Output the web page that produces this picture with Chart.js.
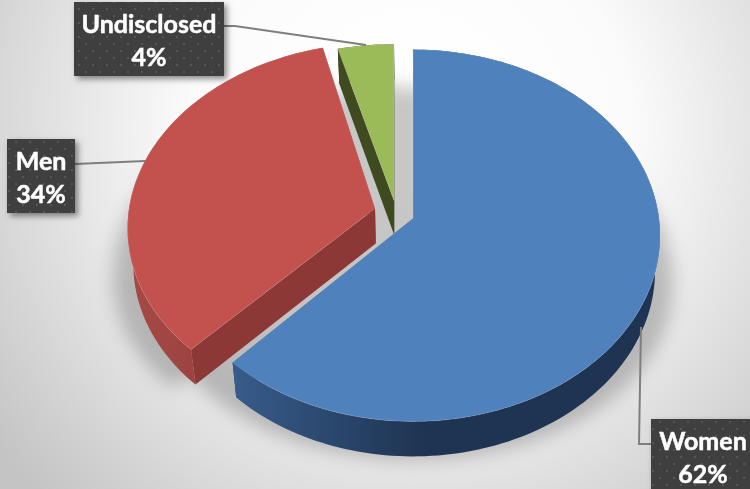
<!DOCTYPE html>
<html>
<head>
<meta charset="utf-8">
<style>
  html, body { margin: 0; padding: 0; background: #fff; }
  #wrap { position: relative; width: 750px; height: 489px; overflow: hidden; }
  canvas { display: block; }
</style>
<script src="https://cdn.jsdelivr.net/npm/chart.js@4"></script>
</head>
<body>
<div id="wrap"><canvas id="pie" width="750" height="489"></canvas></div>
<script>
// Survey breakdown by gender
const categories = ['Women', 'Men', 'Undisclosed'];
const shares = [62, 34, 4];

const topColors = ['#4f81bd', '#c3524f', '#9bbb59'];
const cutColors = ['#1f3452', '#8c3836', '#3f4a21'];
const rimStops = [['#375c8b', '#1f3452'], ['#a64a47', '#8a3735'], ['#3f4a21', '#3f4a21']];

// Pull-out of each slice on screen: dx, dy, vertical squeeze about the hub, shear
const pull = [[0, 0, 1, 0], [-38, -10, 0.98, -0.025], [-19, -18, 0.925, 0]];

// Perspective of the tilted disc
const tilt = { cx: 38, hub: -26, a: 1.006, b: 0.754, k: 0.0914, depth: 35, narrow: 0.98 };

// Callout boxes: x, y, w, h, then the leader polyline
const callouts = [
  { box: [651, 419, 110, 74], text: 703, leader: [[651, 444], [639, 444], [641, 327]] },
  { box: [7, 139, 68, 74], text: 41, leader: [[75, 164], [145, 161]] },
  { box: [74, 2, 150, 74], text: 149, leader: [[224, 26], [235, 26], [366, 45]] }
];

function projector(arc, i) {
  const R = arc.outerRadius;
  const hubX = arc.x + tilt.cx, hubY = arc.y + tilt.hub;
  const [dx, dy, sy, shear] = pull[i];
  return (th, r, low) => {
    const u = r * Math.cos(th), v = r * Math.sin(th);
    const w = 1 - tilt.k * v;
    const py = tilt.b * R * v / w * sy;
    let x = tilt.a * R * u / w + dx + shear * py;
    let y = py + dy;
    if (low) { x *= tilt.narrow; y += tilt.depth; }
    return [hubX + x, hubY + y];
  };
}

function sweep(arc) {
  const pts = [];
  const n = Math.max(8, Math.ceil((arc.endAngle - arc.startAngle) * 40));
  for (let j = 0; j <= n; j++) pts.push(arc.startAngle + (arc.endAngle - arc.startAngle) * j / n);
  return pts;
}

function trace(ctx, pts) {
  ctx.beginPath();
  pts.forEach((p, j) => j ? ctx.lineTo(p[0], p[1]) : ctx.moveTo(p[0], p[1]));
  ctx.closePath();
}

// Soft cast shadow widening toward the viewer, from the pulled and the seated slices
function drawShadow(ctx, arcs) {
  ctx.save();
  ctx.filter = 'blur(9px)';
  ctx.fillStyle = 'rgba(0,0,0,0.22)';
  ctx.beginPath();
  arcs.forEach((arc, i) => {
    const hubX = arc.x + tilt.cx;
    const spread = ([x, y]) => {
      const f = 1 + 0.1 * (y - 50) / 370;
      return [hubX + (x - hubX) * f, y + 38];
    };
    [projector(arc, i), projector(arc, 0)].forEach(p => {
      const list = [p(arc.startAngle, 0, false)].concat(sweep(arc).map(t => p(t, 1, false))).map(spread);
      list.forEach((q, j) => j ? ctx.lineTo(q[0], q[1]) : ctx.moveTo(q[0], q[1]));
      ctx.closePath();
    });
  });
  ctx.fill('nonzero');
  ctx.restore();
}

function drawSlice(ctx, arc, i) {
  const p = projector(arc, i);
  const angles = sweep(arc);
  const topRim = angles.map(t => p(t, 1, false));
  const lowRim = angles.map(t => p(t, 1, true));
  const hubTop = p(0, 0, false), hubLow = p(0, 0, true);

  // cut faces on both straight edges
  ctx.fillStyle = cutColors[i];
  trace(ctx, [hubTop, topRim[0], lowRim[0], hubLow]); ctx.fill();
  trace(ctx, [hubTop, topRim[topRim.length - 1], lowRim[lowRim.length - 1], hubLow]); ctx.fill();

  // curved wall
  const left = Math.min(...topRim.map(q => q[0]));
  const g = ctx.createLinearGradient(left, 0, left + 190, 0);
  g.addColorStop(0, rimStops[i][0]);
  g.addColorStop(1, rimStops[i][1]);
  ctx.fillStyle = g;
  trace(ctx, topRim.concat(lowRim.slice().reverse())); ctx.fill();

  // upper surface
  ctx.fillStyle = topColors[i];
  trace(ctx, [hubTop].concat(topRim)); ctx.fill();
  ctx.lineWidth = 1;
  ctx.strokeStyle = 'rgba(255,255,255,0.15)';
  ctx.stroke();
}

function dotPattern(ctx) {
  const c = document.createElement('canvas');
  c.width = 14; c.height = 14;
  const t = c.getContext('2d');
  t.fillStyle = '#3f3f3f'; t.fillRect(0, 0, 14, 14);
  t.fillStyle = '#565656';
  t.fillRect(1, 1, 2, 2); t.fillRect(8, 8, 2, 2);
  return ctx.createPattern(c, 'repeat');
}

function drawCallouts(ctx) {
  const total = shares.reduce((s, v) => s + v, 0);
  ctx.save();
  callouts.forEach(c => {
    ctx.strokeStyle = '#7f7f7f';
    ctx.lineWidth = 2;
    ctx.beginPath();
    c.leader.forEach((q, j) => j ? ctx.lineTo(q[0], q[1]) : ctx.moveTo(q[0], q[1]));
    ctx.stroke();
  });
  const fill = dotPattern(ctx);
  callouts.forEach((c, i) => {
    const [x, y, w, h] = c.box;
    ctx.save();
    ctx.shadowColor = 'rgba(0,0,0,0.45)';
    ctx.shadowBlur = 6;
    ctx.shadowOffsetX = 3;
    ctx.shadowOffsetY = 3;
    ctx.fillStyle = '#3f3f3f';
    ctx.fillRect(x, y, w, h);
    ctx.restore();
    ctx.fillStyle = fill;
    ctx.fillRect(x, y, w, h);
    ctx.fillStyle = '#ffffff';
    ctx.strokeStyle = '#ffffff';
    ctx.lineWidth = 0.5;
    ctx.font = 'bold 25px Lato, "Open Sans", sans-serif';
    ctx.textAlign = 'center';
    ctx.textBaseline = 'middle';
    const pct = Math.round(shares[i] / total * 100) + '%';
    ctx.fillText(categories[i], c.text, y + 23);
    ctx.strokeText(categories[i], c.text, y + 23);
    ctx.fillText(pct, c.text, y + 56);
    ctx.strokeText(pct, c.text, y + 56);
  });
  ctx.restore();
}

const scenePlugin = {
  id: 'tiltedPie',
  beforeDraw(chart) {
    const { ctx, width, height } = chart;
    const g = ctx.createRadialGradient(410, 130, 60, 410, 130, 520);
    g.addColorStop(0, '#ffffff');
    g.addColorStop(0.35, '#fbfbfb');
    g.addColorStop(1, '#c4c4c4');
    ctx.fillStyle = g;
    ctx.fillRect(0, 0, width, height);
  },
  beforeDatasetDraw(chart) {
    const ctx = chart.ctx;
    const arcs = chart.getDatasetMeta(0).data;
    drawShadow(ctx, arcs);
    [2, 1, 0].forEach(i => drawSlice(ctx, arcs[i], i));
    drawCallouts(ctx);
    return false;
  }
};

new Chart(document.getElementById('pie'), {
  type: 'pie',
  data: {
    labels: categories,
    datasets: [{ data: shares, backgroundColor: topColors, borderWidth: 0 }]
  },
  options: {
    responsive: false,
    animation: false,
    layout: { padding: 0 },
    plugins: { legend: { display: false }, tooltip: { enabled: false } }
  },
  plugins: [scenePlugin]
});
</script>
</body>
</html>
